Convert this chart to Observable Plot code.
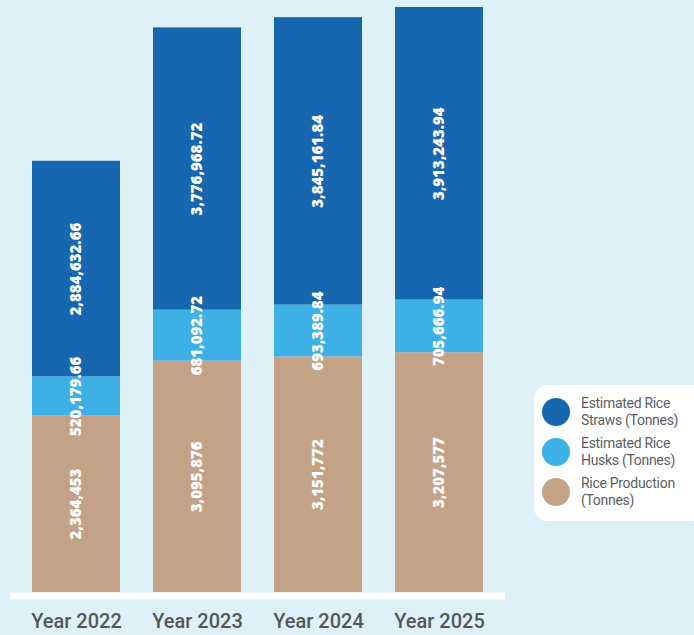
<!DOCTYPE html>
<html>
<head>
<meta charset="utf-8">
<script src="https://cdn.jsdelivr.net/npm/d3@7"></script>
<script src="https://cdn.jsdelivr.net/npm/@observablehq/plot@0.6"></script>
<style>
  html, body { margin: 0; padding: 0; background: #dff1f8; }
  #wrap { position: relative; width: 694px; height: 635px; overflow: hidden; background: #dff1f8; }
  #chart { position: absolute; left: 0; top: 0; }
  #legend {
    position: absolute; left: 534px; top: 385px; width: 172px; height: 136px;
    background: #ffffff; border-radius: 14px; box-sizing: border-box; padding-top: 7px;
    font-family: Roboto, "Liberation Sans", sans-serif; font-size: 14px; color: #5b5f63;
    letter-spacing: -0.3px;
  }
  .item { display: flex; align-items: center; height: 40px; }
  .dot { width: 28px; height: 28px; border-radius: 50%; margin-left: 8px; margin-right: 11px; flex: none; }
  .lab { line-height: 17px; }
</style>
</head>
<body>
<div id="wrap">
  <div id="chart"></div>
  <div id="legend"></div>
</div>
<script>
const years = ["2022", "2023", "2024", "2025"];
const riceProduction = [2364453, 3095876, 3151772, 3207577];
const riceHusks = [520179.66, 681092.72, 693389.84, 705666.94];
const riceStraws = [2884632.66, 3776968.72, 3845161.84, 3913243.94];
const seriesNames = ["Rice Production (Tonnes)", "Estimated Rice Husks (Tonnes)", "Estimated Rice Straws (Tonnes)"];
const seriesColors = ["#c4a286", "#3db1e6", "#1766b0"];
const legendOrder = [2, 1, 0];
const legendLines = [["Rice Production", "(Tonnes)"], ["Estimated Rice", "Husks (Tonnes)"], ["Estimated Rice", "Straws (Tonnes)"]];

const seriesValues = [riceProduction, riceHusks, riceStraws];
const fmtInt = d3.format(",");
const fmtDec = d3.format(",.2f");

const rows = [];
years.forEach((yr, i) => {
  let cum = 0;
  seriesValues.forEach((vals, s) => {
    const v = vals[i];
    rows.push({
      year: yr,
      series: seriesNames[s],
      value: v,
      y1: cum,
      y2: cum + v,
      label: s === 0 ? fmtInt(v) : fmtDec(v)
    });
    cum += v;
  });
});
const maxTotal = d3.max(years, (yr, i) => riceProduction[i] + riceHusks[i] + riceStraws[i]);

const chart = Plot.plot({
  width: 694,
  height: 635,
  marginTop: 7,
  marginBottom: 43,
  marginLeft: 10,
  marginRight: 189,
  style: { background: "transparent", fontFamily: "Roboto, sans-serif" },
  x: { domain: years, range: [31, 483], paddingInner: 0.275, paddingOuter: 0, label: null },
  y: { domain: [0, maxTotal], axis: null },
  color: { domain: seriesNames, range: seriesColors },
  marks: [
    Plot.barY(rows, { x: "year", y1: "y1", y2: "y2", fill: "series" }),
    Plot.ruleY([0], { stroke: "white", strokeWidth: 7, dy: 3.5 }),
    Plot.text(rows, {
      x: "year",
      y: d => (d.y1 + d.y2) / 2,
      text: "label",
      rotate: -90,
      fill: "white",
      fontSize: 15,
      fontWeight: 800,
      fontFamily: "'Open Sans', sans-serif"
    }),
    Plot.axisX({
      tickSize: 0,
      tickPadding: 21,
      fontSize: 20,
      fontWeight: 500,
      fill: "#54585c",
      tickFormat: d => "Year " + d,
      label: null
    })
  ]
});
document.getElementById("chart").appendChild(chart);

const legend = document.getElementById("legend");
legendOrder.forEach(s => {
  const item = document.createElement("div");
  item.className = "item";
  const dot = document.createElement("div");
  dot.className = "dot";
  dot.style.background = seriesColors[s];
  const lab = document.createElement("div");
  lab.className = "lab";
  lab.innerHTML = legendLines[s].join("<br>");
  item.appendChild(dot);
  item.appendChild(lab);
  legend.appendChild(item);
});
</script>
</body>
</html>
